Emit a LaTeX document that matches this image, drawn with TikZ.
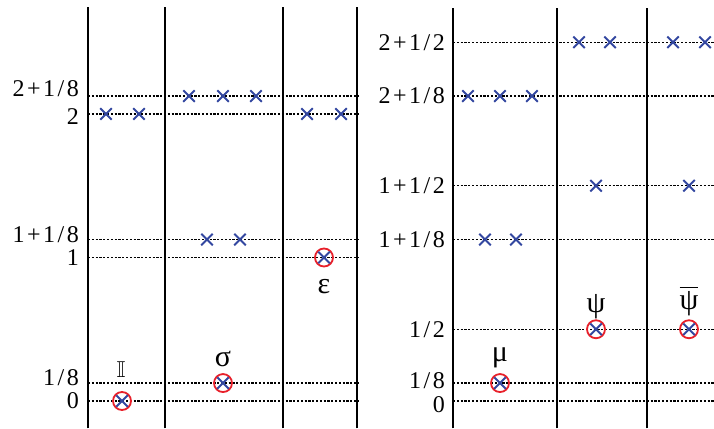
\documentclass[tikz,border=0pt]{standalone}
\usepackage{fontspec,amssymb}
\setmainfont{Liberation Serif}
\usetikzlibrary{positioning,shapes.misc}
\definecolor{xcol}{HTML}{3347A0}
\definecolor{rcol}{HTML}{E8202A}
\newcommand{\gp}{\kern2.5pt}
\tikzset{
  wall/.style={line width=1.2pt,draw=black},
  lvl/.style={line width=1.3pt,dash pattern=on 2.2pt off 1.6pt,draw=black},
  xmk/.style={cross out,draw=xcol,line width=2pt,minimum size=9.5pt,inner sep=0pt},
  ring/.style={circle,draw=rcol,line width=1.8pt,minimum size=18pt,inner sep=0pt},
  lab/.style={inner sep=0pt,font=\fontsize{24}{26}\selectfont},
  glab/.style={inner sep=0pt,font=\fontsize{30}{32}\selectfont},
}

\begin{document}
\begin{tikzpicture}[x=1pt,y=1pt]
\useasboundingbox (0,0) rectangle (714,428);
\begin{scope}[yshift=27pt,y=143.5pt]
% panel walls
\foreach \x in {88,165,283,357} \draw[wall] (\x,-0.19) -- (\x,2.747);
\foreach \x in {453,557,647} \draw[wall] (\x,-0.19) -- (\x,2.74);
% levels, left
\foreach \h in {0,0.125,1,1.125,2,2.125} \draw[lvl] (88,\h) -- (359,\h);
% levels, right
\foreach \h in {0,0.125,0.5,1.125,1.5,2.125,2.5} \draw[lvl] (453,\h) -- (714,\h);

\node[lab,anchor=base east] (l21) at (79,2.125) {2\gp+\gp1\gp/\gp8};
\node[lab,anchor=east,yshift=-3pt] (l2) at (79,2) {2};
\node[lab,anchor=base east,yshift=-3pt] (l11) at (79,1.125) {1\gp+\gp1\gp/\gp8};
\node[lab,anchor=east] (l1) at (79,1) {1};
\node[lab,anchor=base east,yshift=-2pt] (l01) at (79,0.125) {1\gp/\gp8};
\node[lab,anchor=east] (l0) at (79,0) {0};

\node[lab,anchor=east] (r25) at (445,2.5) {2\gp+\gp1\gp/\gp2};
\node[lab,anchor=east] (r21) at (445,2.125) {2\gp+\gp1\gp/\gp8};
\node[lab,anchor=east] (r15) at (445,1.5) {1\gp+\gp1\gp/\gp2};
\node[lab,anchor=east] (r11) at (445,1.125) {1\gp+\gp1\gp/\gp8};
\node[lab,anchor=east] (r05) at (445,0.5) {1\gp/\gp2};
\node[lab,anchor=base east,yshift=-5pt] (r01) at (445,0.125) {1\gp/\gp8};
\node[lab,anchor=north east,yshift=5pt] (r0) at (445,0) {0};

% states
\foreach \x/\h in {106/2,139/2,189/2.125,223/2.125,256/2.125,207/1.125,240/1.125,
  307/2,341/2,468/2.125,500/2.125,532/2.125,485/1.125,516/1.125,
  579/2.5,610/2.5,596/1.5,673/2.5,705/2.5,689/1.5}
  \node[xmk] at (\x,\h) {};

% primaries
\node[ring] (id) at (122,0) {};
\node[ring] (sg) at (223,0.125) {};
\node[ring] (ep) at (324,1) {};
\node[ring] (mu) at (500,0.125) {};
\node[ring] (ps) at (596,0.5) {};
\node[ring] (pb) at (689,0.5) {};
\foreach \n in {id,sg,ep,mu,ps,pb} \node[xmk] at (\n) {};

\node[lab,font=\fontsize{23}{25}\selectfont] (tid) at (121,0.216) {$\mathbb{I}$};
\node[glab] (tsg) at (223,0.29) {σ};
\node[glab] (tep) at (324,0.80) {ε};
\node[glab] (tmu) at (500,0.30) {μ};
\node[glab] (tps) at (596,0.66) {ψ};
\node[glab] (tpb) at (689,0.70) {$\overline{\mbox{ψ}}$};
\end{scope}
\end{tikzpicture}
\end{document}
